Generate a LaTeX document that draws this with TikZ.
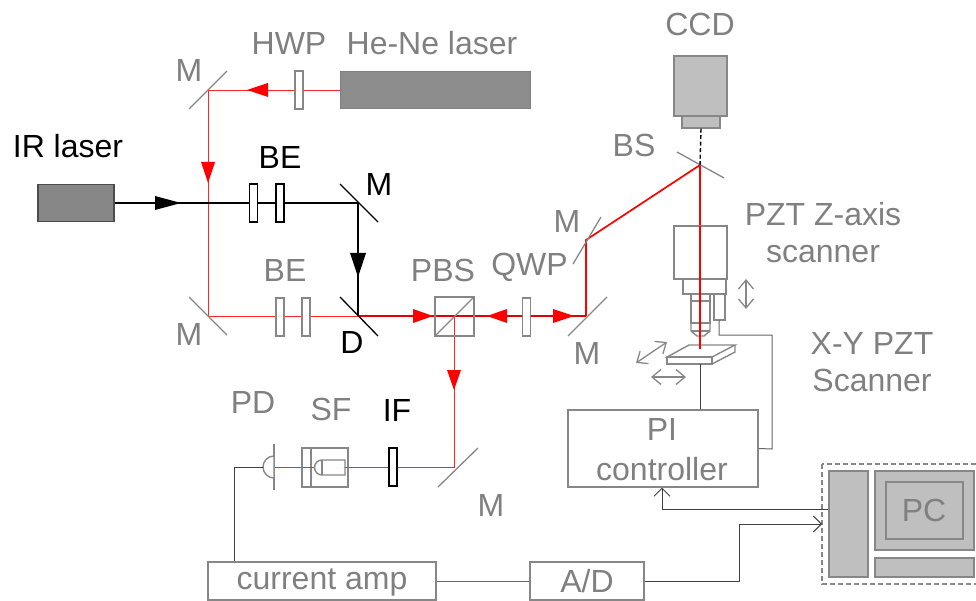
\documentclass[tikz,border=0pt]{standalone}
\usepackage{fontspec}
\setmainfont{Liberation Sans}
\usetikzlibrary{arrows.meta}
\definecolor{txtgray}{gray}{0.5}
\definecolor{partgray}{gray}{0.53}
\tikzset{
  lbl/.style={text=txtgray,font=\fontsize{32}{37}\selectfont,inner sep=0pt,align=center},
  lblk/.style={lbl,text=black},
  part/.style={draw=partgray,line width=1.4pt,line join=miter},
  mirror/.style={draw=partgray,line width=1.3pt},
  mirrork/.style={draw=black,line width=1.3pt},
  plate/.style={draw=partgray,fill=white,line width=1.4pt,minimum width=8pt,minimum height=38pt,inner sep=0pt},
  platek/.style={plate,draw=black},
  beam/.style={draw=red!85,line width=0.9pt},
  beamthick/.style={draw=red,line width=1.7pt},
  irbeam/.style={draw=black,line width=1.3pt},
  wire/.style={draw=black!75,line width=0.9pt},
  wirew/.style={draw=black!60,line width=1pt},
  tipred/.style={fill=red},
  tipblack/.style={fill=black},
  stagearrow/.style={draw=partgray,line width=1.3pt,{Straight Barb[length=9pt,width=15pt,line width=1.3pt]}-{Straight Barb[length=9pt,width=15pt,line width=1.3pt]}},
  openarrow/.style={-{Straight Barb[length=8pt,width=16pt,line width=0.9pt]}},
  gbox/.style={draw=partgray,fill=gray!50,line width=1.4pt,inner sep=0pt},
  wbox/.style={draw=partgray,line width=1.4pt,inner sep=0pt},
}
\begin{document}
\begin{tikzpicture}[x=1pt,y=-1pt]
\useasboundingbox (0,0) rectangle (976,601);
% beam points
\coordinate (mtop) at (208,90);
\coordinate (mleft) at (208,316);
\coordinate (mir) at (358,203);
\coordinate (dich) at (358,316);
\coordinate (pbs) at (454,316);
\coordinate (mpd) at (454,467);
\coordinate (mq) at (586,316);
\coordinate (mup) at (586,240);
\coordinate (bs) at (700,165);
\coordinate (sample) at (700,349);
\coordinate (pdf) at (274,467);

% He-Ne and IR sources
\node (hene) [draw=gray,fill=partgray!95,minimum width=190pt,minimum height=37pt,inner sep=0pt] at (435,90) {};
\node (ir) [draw=black!70,line width=1.2pt,fill=partgray,minimum width=76pt,minimum height=37pt,inner sep=0pt] at (76,203) {};

% red beams
\draw[beam] (hene.west) -- (mtop) -- (mleft) -- (dich);
\draw[beam] (pbs) -- (mpd) -- (pdf);
\draw[beamthick] (mq) -- (mup) -- (bs) -- (sample);
\draw[beamthick,draw=red!88!black] (dich) -- (mq);
\draw[irbeam] (ir.east) -- (mir) -- (dich);

% arrow heads on the beams
\fill[tipred] (247,90) -- (268,83) -- (268,97) -- cycle;
\fill[tipred] (208,183) -- (201,162) -- (215,162) -- cycle;
\fill[tipblack] (181,203) -- (155,196) -- (155,210) -- cycle;
\fill[tipblack] (358,277) -- (350,253) -- (366,253) -- cycle;
\fill[tipred] (433,316) -- (413,309) -- (413,323) -- cycle;
\fill[tipred] (487,316) -- (507,309) -- (507,323) -- cycle;
\fill[tipred] (454,390) -- (447,370) -- (461,370) -- cycle;
\fill[tipred] (574,316) -- (553,309) -- (553,323) -- cycle;

% mirrors
\draw[mirror] (189,109) -- (227,71);
\draw[mirror] (189,297) -- (227,335);
\draw[mirrork] (340,184) -- (378,222);
\draw[mirrork] (340,297) -- (378,336);
\draw[mirror] (438,487) -- (478,448);
\draw[mirror] (568,336) -- (607,297);
\draw[mirror] (573,264) -- (601,217);
\draw[mirror] (677,152) -- (724,178);

% plates
\node (hwp) [plate] at (299,90) {};
\node (bea) [platek] at (253.500,203) {};
\node (beb) [platek] at (280,203) {};
\node (bec) [plate] at (280,317) {};
\node (bed) [plate] at (306,317) {};
\node (qwp) [plate] at (526.500,317) {};
\node (ifl) [platek] at (393,467) {};

% PBS cube
\draw[part] (435,297) rectangle (474,336);
\draw[part] (435,336) -- (474,297);

% spatial filter and PD
\draw[part,fill=white] (302,448) rectangle (348,487);
\draw[part] (311,448) -- (311,487);
\draw[part] (345,460) -- (322,460) arc (270:90:7.500) -- (345,475) -- cycle;
\draw[part] (322,460) -- (322,475);
\draw[beam] (302,467) -- (314,467) (345,467) -- (348,467);
\draw[mirror] (274,444) -- (274,490);
\draw[part,fill=white] (274,456) arc (270:90:11) -- cycle;
\draw[wire] (263,467) -- (234,467) -- (234,562);

% CCD
\node (ccd) [gbox,minimum width=53pt,minimum height=60pt] at (700.500,86) {};
\node (ccdb) [gbox,minimum width=38pt,minimum height=12pt] at (701,122) {};
\draw[black,line width=1.4pt,dash pattern=on 4pt off 2.500pt] (ccdb.south) -- (bs);

% PZT and objective
\draw[part] (674,226) rectangle (727,279);
\draw[part] (683,279) rectangle (726,294);
\draw[part] (691,294) rectangle (710,323);
\draw[part] (691,301) -- (710,301);
\draw[part] (691,323) -- (691,331) -- (697,336) -- (704,336) -- (710,331) -- (710,323);
\draw[part] (691,331) -- (710,331);
\draw[part] (714,294) rectangle (725,320);

% stage
\draw[part] (667,357) -- (689,345) -- (735,345) -- (712,357) -- cycle;
\draw[part] (667,357) rectangle (712,364);
\draw[part] (712,364) -- (735,352) -- (735,345);
\draw[beamthick] (700,226) -- (sample);

% shift arrows
\draw[stagearrow] (746,279) -- (746,309);
\draw[stagearrow] (636,363) -- (667,342);
\draw[stagearrow] (651,377) -- (686,377);

% electronics
\node (pi) [wbox,minimum width=190pt,minimum height=77pt] at (663,448.500) {};
\node (amp) [wbox,minimum width=228pt,minimum height=38pt] at (322,581) {};
\node (adc) [wbox,minimum width=114pt,minimum height=38pt] at (587,581) {};
\coordinate (stagefoot) at (700,364);
\draw[wire] (stagefoot) -- (stagefoot |- pi.north);
\draw[wirew] (pi.east) -- (772,449) -- (772,335) -- (719,335) -- (719,320);
\draw[wirew] (amp.east) -- (adc.west);

% PC
\draw[part,dash pattern=on 5pt off 3pt] (822,464) rectangle (979,584);
\node (tower) [gbox,minimum width=39pt,minimum height=106pt] at (848.500,524) {};
\node (mon) [gbox,minimum width=99pt,minimum height=79pt] at (924.500,510.500) {};
\node (scr) [gbox,minimum width=77pt,minimum height=57pt] at (924.500,510.500) {};
\node (kbd) [gbox,minimum width=99pt,minimum height=19pt] at (924.500,567.500) {};
\coordinate (picorner) at (662,509);
\coordinate (adcorner) at (739,581);
\coordinate (adup) at (739,524);
\draw[wire,openarrow] (tower.west |- picorner) -- (picorner) -- (picorner |- pi.south);
\draw[wire,openarrow] (adc.east) -- (adcorner) -- (adup) -- (822,524);

% labels
\node[lbl] at (189,70) {M};
\node[lbl] at (289,43) {HWP};
\node[lbl] at (432,43) {He-Ne laser};
\node[lblk] at (68,146) {IR laser};
\node[lblk] at (280,157) {BE};
\node[lblk] at (379,184) {M};
\node[lbl] at (285,270) {BE};
\node[lbl] at (189,334) {M};
\node[lblk] at (352,342) {D};
\node[lbl] at (443,270) {PBS};
\node[lbl] at (529.500,267) {QWP};
\node[lbl] at (567,221) {M};
\node[lbl] at (587,353) {M};
\node[lbl] at (634,145) {BS};
\node[lbl] at (700,24) {CCD};
\node[lbl] at (823,233) {PZT Z-axis\\scanner};
\node[lbl] at (872,362) {X-Y PZT\\Scanner};
\node[lbl] at (253,402) {PD};
\node[lbl] at (331,409) {SF};
\node[lblk] at (397,410) {IF};
\node[lbl] at (491,505) {M};
\node[lbl] at (662,450) {PI\\[3pt]controller};
\node[lbl] at (322,582) {current amp};
\node[lbl] at (587,581) {A/D};
\node[lbl] at (924,510) {PC};
\end{tikzpicture}
\end{document}
